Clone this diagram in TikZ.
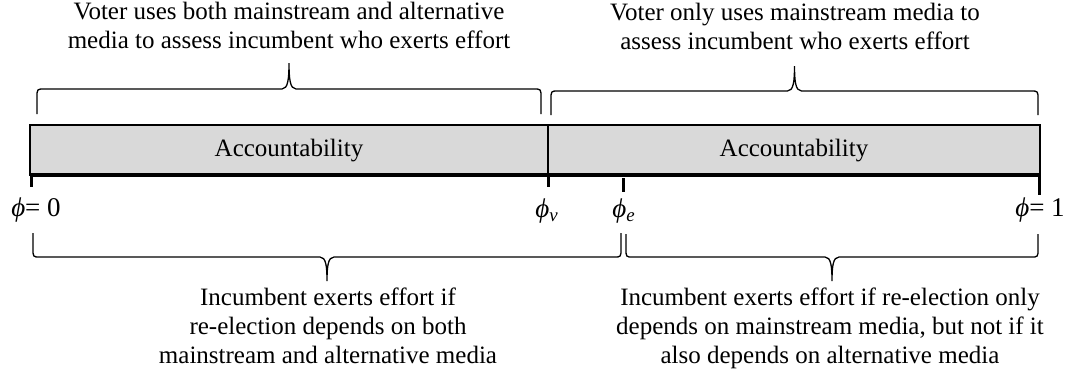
\documentclass[tikz,border=0pt]{standalone}
\usepackage{fontspec}
\setmainfont{Liberation Serif}
\definecolor{accgray}{HTML}{D9D9D9}
\tikzset{
  lbl/.style={align=center,inner sep=0pt,font=\fontsize{12.5}{14.5}\selectfont},
  philbl/.style={inner sep=0pt,font=\fontsize{13.5}{15}\selectfont},
  accbox/.style={draw,line width=0.6pt,fill=accgray},
  axisline/.style={line width=1.7pt},
  axistick/.style={line width=1.5pt},
  bracepath/.style={line width=0.65pt}
}
% brace: x1, x2, y of tips, y of long line, y of cusp
\newcommand{\hbrace}[5]{%
\draw[bracepath] (#1,#3) -- (#1,{#4+0.35*(#3-#4)})
  .. controls (#1,#4) .. ({#1+7},#4) -- ({(#1+#2)/2-7},#4)
  .. controls ({(#1+#2)/2-1},#4) and ({(#1+#2)/2},{#4+0.4*(#5-#4)}) .. ({(#1+#2)/2},#5)
  .. controls ({(#1+#2)/2},{#4+0.4*(#5-#4)}) and ({(#1+#2)/2+1},#4) .. ({(#1+#2)/2+7},#4)
  -- ({#2-7},#4) .. controls (#2,#4) .. (#2,{#4+0.35*(#3-#4)}) -- (#2,#3);}
\begin{document}
\begin{tikzpicture}[x=0.5pt,y=-0.5pt]
\useasboundingbox (0,0) rectangle (1070,377);
% bar
\draw[accbox] (30,125) rectangle (548,175);
\draw[accbox] (548,125) rectangle (1040,175);
\node[lbl] (accL) at (289,151) {Accountability};
\node[lbl] (accR) at (794,151) {Accountability};
\coordinate (a0) at (31.5,175);
\coordinate (av) at (548,175);
\coordinate (ae) at (623,178);
\coordinate (a1) at (1039,175);
\draw[axisline] (30,175) -- (1040,175);
\draw[axistick] (a0) -- ++(0,12);
\draw[axistick] (av) -- ++(0,12);
\draw[axistick] (ae) -- ++(0,14);
\draw[axistick] (a1) -- ++(0,20);
\node[philbl] (p0) at (36,210) {\textit{ϕ}= 0};
\node[philbl] (pv) at (547,211) {\textit{ϕ\textsubscript{v}}};
\node[philbl] (pe) at (624,211) {\textit{ϕ\textsubscript{e}}};
\node[philbl] (p1) at (1040,210) {\textit{ϕ}= 1};
% top
\hbrace{37}{541}{114}{89}{63}
\hbrace{551}{1038}{115}{91}{66}
\node[lbl,anchor=base] (topL) at (289,48) {Voter uses both mainstream and alternative\\media to assess incumbent who exerts effort};
\node[lbl,anchor=base] (topR) at (795,49) {Voter only uses mainstream media to\\assess incumbent who exerts effort};
% bottom
\hbrace{33}{621}{233}{257}{281}
\hbrace{626}{1038}{234}{257}{281}
\node[lbl,anchor=base] (botL) at (328,363) {Incumbent exerts effort if\\re-election depends on both\\mainstream and alternative media};
\node[lbl,anchor=base] (botR) at (830,363) {Incumbent exerts effort if re-election only\\depends on mainstream media, but not if it\\also depends on alternative media};
\end{tikzpicture}
\end{document}
